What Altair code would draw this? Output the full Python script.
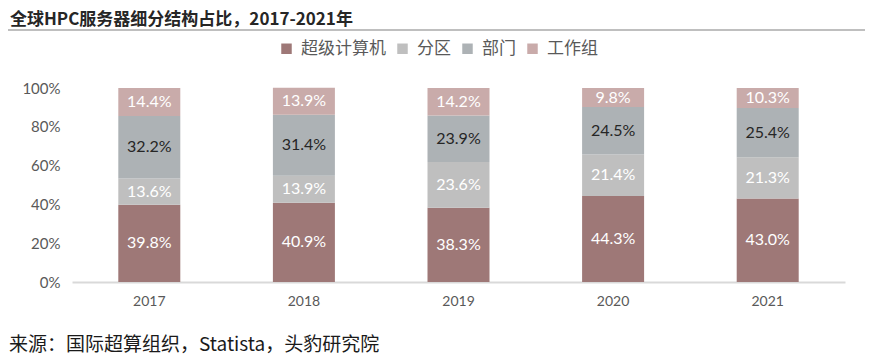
import altair as alt
import pandas as pd

years = ["2017", "2018", "2019", "2020", "2021"]
series = ["超级计算机", "分区", "部门", "工作组"]
colors = ["#9E7877", "#BFBFBF", "#ADB2B5", "#C9ABAA"]
label_colors = ["#FFFFFF", "#FFFFFF", "#262626", "#FFFFFF"]
supercomputer = [39.8, 40.9, 38.3, 44.3, 43.0]
partition = [13.6, 13.9, 23.6, 21.4, 21.3]
department = [32.2, 31.4, 23.9, 24.5, 25.4]
workgroup = [14.4, 13.9, 14.2, 9.8, 10.3]
y_ticks = [0, 20, 40, 60, 80, 100]
title_text = "全球HPC服务器细分结构占比，2017-2021年"
source_text = "来源：国际超算组织，Statista，头豹研究院"

rows = []
for i, y in enumerate(years):
    base = 0.0
    for j, (s, vals) in enumerate(zip(series, [supercomputer, partition, department, workgroup])):
        v = vals[i]
        rows.append({"year": y, "series": s, "value": v, "order": j,
                     "y0": base, "y1": base + v, "mid": base + v / 2,
                     "label": f"{v:.1f}%", "lc": label_colors[j]})
        base += v
df = pd.DataFrame(rows)

W, H = 773, 194
cjk = "Noto Sans CJK SC"
num = "Lato"

x_axis = alt.Axis(title=None, labelAngle=0, ticks=False, domainColor="#D9D9D9",
                  domainWidth=2, labelFont=num, labelFontSize=14, labelColor="#595959",
                  labelPadding=12)
y_axis = alt.Axis(title=None, values=y_ticks, labelExpr="datum.value + '%'",
                  grid=False, domain=False, ticks=False, labelFont=num,
                  labelOverlap=False, labelFontSize=15, labelColor="#595959",
                  labelPadding=12)
x_scale = alt.Scale(paddingInner=0.6, paddingOuter=0.3)
y_scale = alt.Scale(domain=[0, 100])

base = alt.Chart(df)

bars = base.mark_bar(size=62).encode(
    x=alt.X("year:N", sort=years, axis=x_axis, scale=x_scale),
    y=alt.Y("y0:Q", scale=y_scale, axis=y_axis),
    y2="y1:Q",
    color=alt.Color("series:N", sort=series,
                    scale=alt.Scale(domain=series, range=colors),
                    legend=alt.Legend(title=None, orient="none", direction="horizontal",
                                      legendX=206, legendY=-48, symbolType="square",
                                      symbolSize=110, symbolStrokeWidth=0,
                                      labelFont=cjk, labelFontSize=17, labelColor="#595959",
                                      labelOffset=6, columnPadding=8)),
    order=alt.Order("order:Q"),
)

labels = base.mark_text(font=num, fontSize=16, baseline="middle").encode(
    x=alt.X("year:N", sort=years, axis=x_axis, scale=x_scale),
    y=alt.Y("mid:Q", scale=y_scale, axis=y_axis),
    text="label:N",
    color=alt.Color("lc:N", scale=None),
)

title = alt.Chart(pd.DataFrame({"t": [title_text]})).mark_text(
    font=cjk, fontSize=17, fontWeight="bold", align="left", baseline="middle", color="#262626"
).encode(x=alt.value(-62), y=alt.value(-68), text="t:N")

sep = alt.Chart(pd.DataFrame({"a": [0]})).mark_rule(color="#BFBFBF", strokeWidth=2).encode(
    x=alt.value(-64), x2=alt.value(808), y=alt.value(-58)
)

source = alt.Chart(pd.DataFrame({"t": [source_text]})).mark_text(
    font=cjk, fontSize=19, align="left", baseline="middle", color="#1a1a1a"
).encode(x=alt.value(-63), y=alt.value(257), text="t:N")

chart = alt.layer(bars, labels, title, sep, source).properties(
    width=W, height=H,
    autosize=alt.AutoSizeParams(type="none"),
    padding={"left": 64, "top": 80, "right": 20, "bottom": 76},
).configure_view(stroke=None).configure_axisY(labelOverlap=False)

chart.save("out.html", embed_options={"renderer": "svg", "actions": False})
